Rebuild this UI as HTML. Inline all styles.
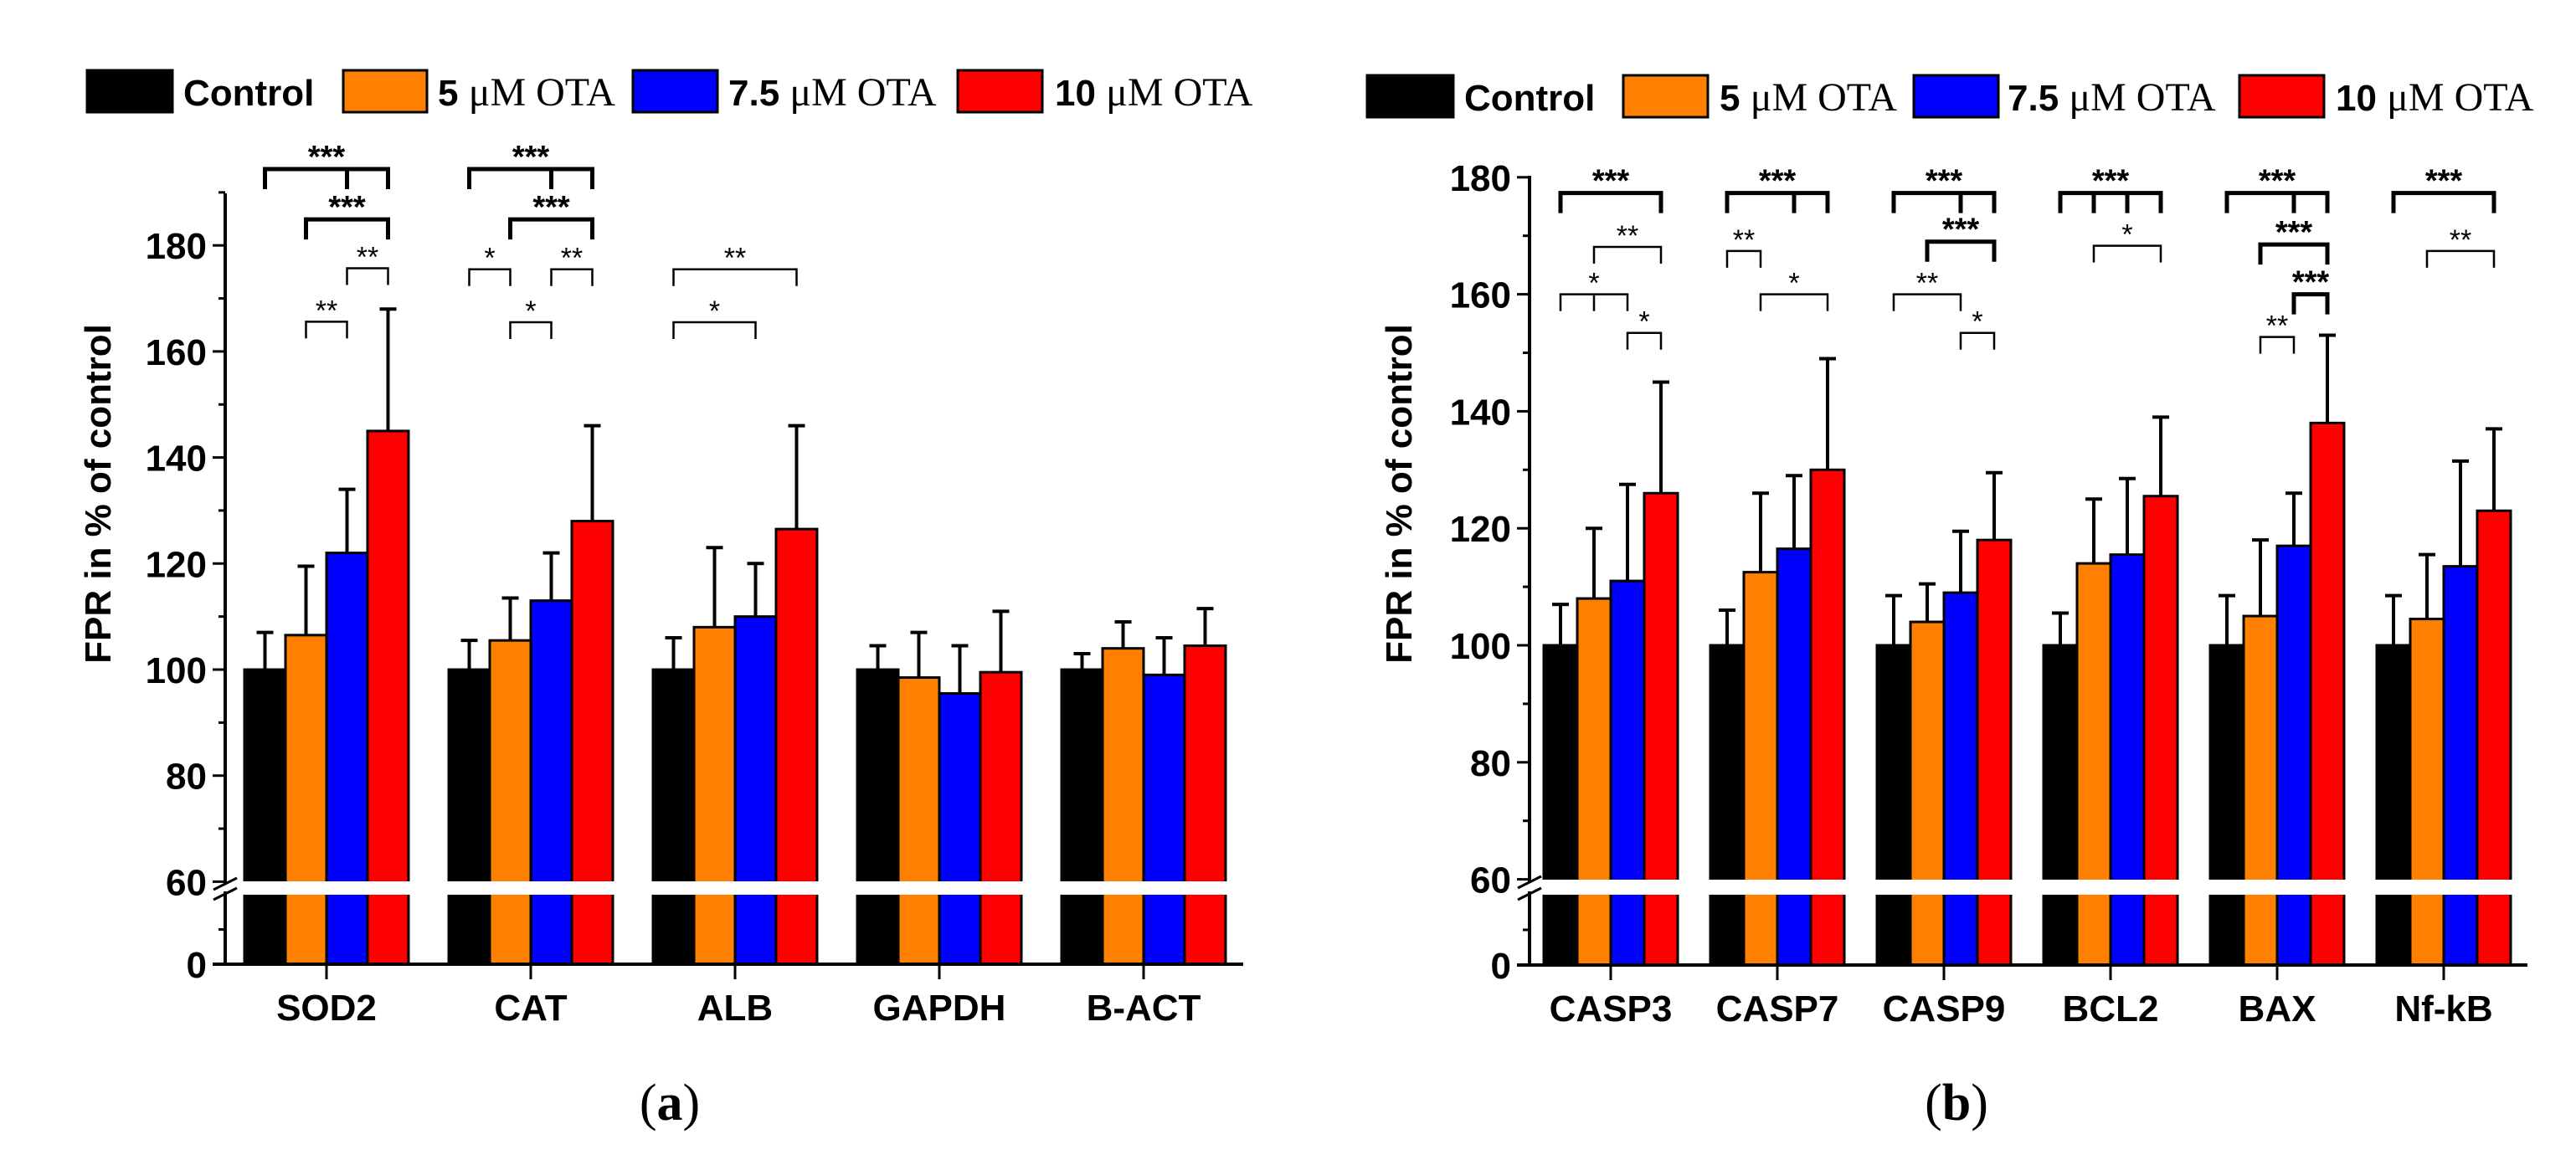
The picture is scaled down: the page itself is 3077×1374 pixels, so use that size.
<!DOCTYPE html>
<html><head><meta charset="utf-8"><style>
html,body{margin:0;padding:0;background:#fff;}
svg{display:block;}
text{font-family:"Liberation Sans",Arial,sans-serif;}
.tm{font-family:"Liberation Serif","Times New Roman",serif;font-weight:normal;}
</style></head><body>
<svg id="fig" width="3077" height="1374" viewBox="0 0 3077 1374" xmlns="http://www.w3.org/2000/svg">
<g id="legendA">
 <rect x="104" y="84" width="102" height="50" fill="#000" stroke="#000" stroke-width="3"/>
 <text x="219" y="126" font-size="44" font-weight="bold">Control</text>
 <rect x="410" y="84" width="100" height="50" fill="#ff8000" stroke="#000" stroke-width="3"/>
 <text x="523" y="126" font-size="44" font-weight="bold">5 <tspan class="tm" font-size="48">μM OTA</tspan></text>
 <rect x="756" y="84" width="101" height="50" fill="#0000ff" stroke="#000" stroke-width="3"/>
 <text x="870" y="126" font-size="44" font-weight="bold">7.5 <tspan class="tm" font-size="48">μM OTA</tspan></text>
 <rect x="1144" y="84" width="101" height="50" fill="#ff0000" stroke="#000" stroke-width="3"/>
 <text x="1260" y="126" font-size="44" font-weight="bold">10 <tspan class="tm" font-size="48">μM OTA</tspan></text>
</g>
<g id="legendB">
 <rect x="1633" y="90" width="103" height="50" fill="#000" stroke="#000" stroke-width="3"/>
 <text x="1749" y="132" font-size="44" font-weight="bold">Control</text>
 <rect x="1939" y="90" width="101" height="50" fill="#ff8000" stroke="#000" stroke-width="3"/>
 <text x="2054" y="132" font-size="44" font-weight="bold">5 <tspan class="tm" font-size="48">μM OTA</tspan></text>
 <rect x="2286" y="90" width="101" height="50" fill="#0000ff" stroke="#000" stroke-width="3"/>
 <text x="2398" y="132" font-size="44" font-weight="bold">7.5 <tspan class="tm" font-size="48">μM OTA</tspan></text>
 <rect x="2675" y="90" width="101" height="50" fill="#ff0000" stroke="#000" stroke-width="3"/>
 <text x="2790" y="132" font-size="44" font-weight="bold">10 <tspan class="tm" font-size="48">μM OTA</tspan></text>
</g>
<text class="tm" x="800" y="1338" font-size="62" text-anchor="middle">(<tspan font-weight="bold">a</tspan>)</text>
<text class="tm" x="2337" y="1338" font-size="62" text-anchor="middle">(<tspan font-weight="bold">b</tspan>)</text>
</svg>
<script>
const catsA = ["SOD2","CAT","ALB","GAPDH","B-ACT"];
const controlA = [100,100,100,100,100];
const ota5A = [106.5,105.5,108,98.5,104];
const ota75A = [122,113,110,95.5,99];
const ota10A = [145,128,126.5,99.5,104.5];
const errControlA = [7,5.5,6,4.5,3];
const err5A = [13,8,15,8.5,5];
const err75A = [12,9,10,9,7];
const err10A = [23,18,19.5,11.5,7];
// brackets: [category, fromBar, toBar, yValue, label, thick, middleTicks]
const sigA = [
 [0,0,3,194.4,"***",1,[2]],[0,1,3,184.9,"***",1,[]],[0,2,3,175.7,"**",0,[]],[0,1,2,165.6,"**",0,[]],
 [1,0,3,194.4,"***",1,[2]],[1,1,3,184.9,"***",1,[]],[1,0,1,175.5,"*",0,[]],[1,2,3,175.5,"**",0,[]],[1,1,2,165.5,"*",0,[]],
 [2,0,3,175.5,"**",0,[]],[2,0,2,165.5,"*",0,[]]
];
const ticksA = [60,80,100,120,140,160,180];
const catsB = ["CASP3","CASP7","CASP9","BCL2","BAX","Nf-kB"];
const controlB = [100,100,100,100,100,100];
const ota5B = [108,112.5,104,114,105,104.5];
const ota75B = [111,116.5,109,115.5,117,113.5];
const ota10B = [126,130,118,125.5,138,123];
const errControlB = [7,6,8.5,5.5,8.5,8.5];
const err5B = [12,13.5,6.5,11,13,11];
const err75B = [16.5,12.5,10.5,13,9,18];
const err10B = [19,19,11.5,13.5,15,14];
const sigB = [
 [0,0,3,177.3,"***",1,[]],[0,1,3,168.1,"**",0,[]],[0,0,2,160,"*",0,[1]],[0,2,3,153.4,"*",0,[]],
 [1,0,3,177.3,"***",1,[2]],[1,0,1,167.4,"**",0,[]],[1,1,3,160,"*",0,[]],
 [2,0,3,177.3,"***",1,[2]],[2,1,3,169,"***",1,[]],[2,0,2,160,"**",0,[]],[2,2,3,153.4,"*",0,[]],
 [3,0,3,177.3,"***",1,[1,2]],[3,1,3,168.3,"*",0,[]],
 [4,0,3,177.3,"***",1,[2]],[4,1,3,168.5,"***",1,[]],[4,2,3,160,"***",1,[]],[4,1,2,152.7,"**",0,[]],
 [5,0,3,177.3,"***",1,[]],[5,1,3,167.4,"**",0,[]]
];
const ticksB = [60,80,100,120,140,160,180];

const NS="http://www.w3.org/2000/svg";
const svg=document.getElementById('fig');
const colors=["#000000","#ff8000","#0000ff","#ff0000"];
function mk(tag,attrs,parent){const e=document.createElementNS(NS,tag);for(const k in attrs)e.setAttribute(k,attrs[k]);(parent||svg).appendChild(e);return e;}

function drawChart(cfg){
 const g=mk('g',{});
 
 
 const y=v=>cfg.y100-(v-100)*cfg.ppu;
 const y0=cfg.y0, gapTop=cfg.gapTop, gapBot=cfg.gapBot;
 const series=[cfg.s0,cfg.s1,cfg.s2,cfg.s3], errs=[cfg.e0,cfg.e1,cfg.e2,cfg.e3];
 const barX=(c,b)=>cfg.x0+c*cfg.gs+b*cfg.bw;
 const cen=(c,b)=>barX(c,b)+cfg.bw/2;
 // bars
 cfg.cats.forEach((cat,c)=>{
  for(let b=0;b<4;b++){
   const v=series[b][c];
   const r=mk('rect',{x:barX(c,b),y:y(v),width:cfg.bw,height:y0-y(v),fill:colors[b],stroke:'#000','stroke-width':3},g);
   
   
   const top=y(v+errs[b][c]);
   const eb=mk('path',{d:`M${cen(c,b)},${y(v)}V${top}M${cen(c,b)-10},${top}H${cen(c,b)+10}`,stroke:'#000','stroke-width':4,fill:'none'},g);
   
   
  }
 });
 // break gap
 const gp=mk('rect',{x:cfg.ax+6,y:gapTop,width:cfg.axEnd-cfg.ax,height:gapBot-gapTop,fill:'#fff'},g);
 
 
 // y axis
 const ya=mk('path',{d:`M${cfg.ax},${cfg.axTop}V${gapTop+4}M${cfg.ax},${gapBot-4}V${y0}`,stroke:'#000','stroke-width':4,fill:'none'},g);
 
 
 const bm=mk('path',{d:`M${cfg.ax-14},${gapTop+10}L${cfg.ax+14},${gapTop-4}M${cfg.ax-14},${gapBot+6}L${cfg.ax+14},${gapBot-8}`,stroke:'#000','stroke-width':3},g);
 
 
 cfg.ticks.forEach(t=>{
  const tk=mk('path',{d:`M${cfg.ax-15},${y(t)}H${cfg.ax}`,stroke:'#000','stroke-width':3},g);
  
  
  const lb=mk('text',{x:cfg.ax-22,y:y(t)+16,'font-size':44,'font-weight':'bold','text-anchor':'end'},g);
  lb.textContent=t;
  
  
 });
 for(let t=cfg.ticks[0]+10;t<=cfg.topVal;t+=20){
  const mt=mk('path',{d:`M${cfg.ax-8},${y(t)}H${cfg.ax}`,stroke:'#000','stroke-width':3},g);
  
  
 }
 const z=mk('path',{d:`M${cfg.ax-8},${(y0+gapBot)/2}H${cfg.ax}M${cfg.ax-15},${y0}H${cfg.ax}`,stroke:'#000','stroke-width':3},g);
 
 
 const zl=mk('text',{x:cfg.ax-22,y:y0+16,'font-size':44,'font-weight':'bold','text-anchor':'end'},g);
 zl.textContent='0';
 
 
 const yt=mk('text',{x:0,y:0,'font-size':44,'font-weight':'bold','text-anchor':'middle',transform:`translate(${cfg.titleX},${cfg.titleY}) rotate(-90)`},g);
 yt.textContent='FPR in % of control';
 
 
 // x axis
 const xa=mk('path',{d:`M${cfg.ax-15},${y0}H${cfg.axEnd}`,stroke:'#000','stroke-width':4},g);
 
 
 cfg.cats.forEach((cat,c)=>{
  const cx=cfg.x0+c*cfg.gs+2*cfg.bw;
  const t=mk('path',{d:`M${cx},${y0}V${y0+18}`,stroke:'#000','stroke-width':3},g);
  
  
  const l=mk('text',{x:cx,y:y0+67,'font-size':44,'font-weight':'bold','text-anchor':'middle'},g);
  l.textContent=cat;
  
  
 });
 // significance brackets
 cfg.sig.forEach(s=>{
  const [c,a,b,v,lab,thick,mids]=s;
  const yy=y(v), leg=thick?24:20, x1=cen(c,a), x2=cen(c,b);
  let d=`M${x1},${yy+leg}V${yy}H${x2}V${yy+leg}`;
  mids.forEach(m=>{d+=`M${cen(c,m)},${yy}V${yy+leg}`;});
  const p=mk('path',{d:d,stroke:'#000','stroke-width':thick?5:2.5,fill:'none'},g);
  
  
  const st=mk('text',{x:(x1+x2)/2,y:yy-2,'font-size':thick?38:34,'font-weight':thick?'bold':'normal','text-anchor':'middle'},g);
  st.textContent=lab;
  
  
 });
}
drawChart({name:'chart-a',cats:catsA,s0:controlA,s1:ota5A,s2:ota75A,s3:ota10A,e0:errControlA,e1:err5A,e2:err75A,e3:err10A,sig:sigA,ticks:ticksA,
 y100:800,ppu:6.335,y0:1152,gapTop:1053,gapBot:1069,x0:292,gs:244,bw:49,ax:269,axEnd:1485,axTop:231,topVal:190,titleX:132,titleY:590});
drawChart({name:'chart-b',cats:catsB,s0:controlB,s1:ota5B,s2:ota75B,s3:ota10B,e0:errControlB,e1:err5B,e2:err75B,e3:err10B,sig:sigB,ticks:ticksB,
 y100:771,ppu:6.99,y0:1153,gapTop:1051,gapBot:1069,x0:1844,gs:199,bw:40,ax:1827,axEnd:3019,axTop:210,topVal:180,titleX:1686,titleY:590});
</script>
</body></html>
